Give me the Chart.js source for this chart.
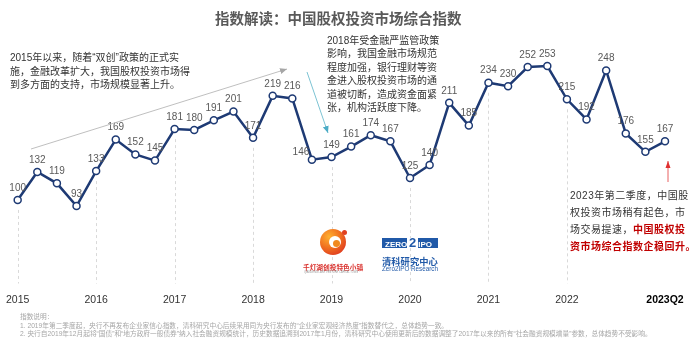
<!DOCTYPE html>
<html>
<head>
<meta charset="utf-8">
<script src="https://cdn.jsdelivr.net/npm/chart.js@4.4.0/dist/chart.umd.min.js"></script>
<style>
  body { margin: 0; background: #fff; }
  #wrap { position: relative; width: 699px; height: 340px; overflow: hidden;
          font-family: "Liberation Sans", "Noto Sans CJK SC", sans-serif; }
  #c { position: absolute; left: 0; top: 0; }
  .txt { position: absolute; white-space: nowrap; color: #333; font-size: 10px; }
  .red { color: #c00000; font-weight: bold; }
</style>
</head>
<body>
<div id="wrap">
  <canvas id="c" width="699" height="340"></canvas>

  <div class="txt" style="left:215px; top:7px; font-size:14.5px; font-weight:bold; color:#595959;">指数解读：中国股权投资市场综合指数</div>

  <div class="txt" style="left:10px; top:51px; line-height:13.5px;">
    2015年以来，随着“双创”政策的正式实<br>施，金融改革扩大，我国股权投资市场得<br>到多方面的支持，市场规模显著上升。
  </div>

  <div class="txt" style="left:327px; top:34px; line-height:13.4px;">
    2018年受金融严监管政策<br>影响，我国金融市场规范<br>程度加强，银行理财等资<br>金进入股权投资市场的通<br>道被切断，造成资金面紧<br>张，机构活跃度下降。
  </div>

  <div class="txt" style="left:570px; top:187px; line-height:17px; letter-spacing:0.5px;">
    2023年第二季度，中国股<br>权投资市场稍有起色，市<br>场交易提速，<span class="red">中国股权投</span><br><span class="red">资市场综合指数企稳回升。</span>
  </div>

  <svg width="699" height="340" style="position:absolute;left:0;top:0;pointer-events:none;">
    <defs>
      <marker id="ag" markerWidth="8" markerHeight="8" refX="7" refY="4" orient="auto" markerUnits="userSpaceOnUse">
        <path d="M0,1 L7,4 L0,7 Z" fill="#a6a6a6"/>
      </marker>
      <marker id="at" markerWidth="8" markerHeight="8" refX="7" refY="4" orient="auto" markerUnits="userSpaceOnUse">
        <path d="M0,1 L7,4 L0,7 Z" fill="#4bacc6"/>
      </marker>
      <marker id="ar" markerWidth="8" markerHeight="8" refX="7" refY="4" orient="auto" markerUnits="userSpaceOnUse">
        <path d="M0,1.5 L7,4 L0,6.5 Z" fill="#e03030"/>
      </marker>
    </defs>
    <line x1="31" y1="149" x2="287" y2="69" stroke="#bfbfbf" stroke-width="1" marker-end="url(#ag)"/>
    <line x1="307" y1="72" x2="328" y2="133" stroke="#7cc3d3" stroke-width="1" marker-end="url(#at)"/>
    <line x1="668" y1="182" x2="668" y2="161" stroke="#e86060" stroke-width="1" marker-end="url(#ar)"/>
  </svg>

  <!-- logos -->
  <div style="position:absolute; left:320px; top:229px; width:26px; height:26px; border-radius:50%;
              background:radial-gradient(circle at 35% 30%, #ffb030 0%, #f07020 45%, #d62020 100%);"></div>
  <div style="position:absolute; left:329px; top:236px; width:12px; height:12px; border-radius:50%; background:#fff;"></div>
  <div style="position:absolute; left:333px; top:240px; width:7px; height:7px; border-radius:50%; background:#f08a20;"></div>
  <div style="position:absolute; left:342px; top:230px; width:5px; height:5px; border-radius:50%; background:#e04020;"></div>
  <div class="txt" style="left:303px; top:262px; font-size:6.7px; font-weight:bold; color:#d9302c;">千灯湖创投特色小镇</div>
  <div class="txt" style="left:304px; top:271px; font-size:2.6px; color:#999;">QIANDENG LAKE VENTURE CAPITAL TOWN</div>

  <div style="position:absolute; left:382px; top:238px; width:56px; height:10px; background:#2059a8;
              color:#fff; font:bold 8px 'Liberation Sans'; line-height:10px; white-space:nowrap;">
    <span style="margin-left:3px;">ZERO</span><span style="display:inline-block; width:11px; background:#fff; color:#2059a8; font-size:13px; text-align:center; line-height:10px;">2</span><span>IPO</span>
  </div>
  <div class="txt" style="left:382px; top:254px; font-size:9.3px; font-weight:bold; color:#2059a8;">清科研究中心</div>
  <div class="txt" style="left:382px; top:265px; font-size:6.3px; color:#2059a8;">Zero2IPO Research</div>

  <div class="txt" style="left:20px; top:313px; font-size:6.7px; line-height:8.5px; color:#a6a6a6;">
    指数说明：<br>
    1. 2019年第二季度起，央行不再发布企业家信心指数，清科研究中心后续采用同为央行发布的“企业家宏观经济热度”指数替代之，总体趋势一致。<br>
    2. 央行自2019年12月起将“国债”和“地方政府一般债券”纳入社会融资规模统计，历史数据追溯到2017年1月份，清科研究中心使用更新后的数据调整了2017年以来的所有“社会融资规模增量”参数，总体趋势不受影响。
  </div>
</div>

<script>
// quarterly data, 2015Q1 .. 2023Q2
const quarters = [
  '2015Q1','2015Q2','2015Q3','2015Q4',
  '2016Q1','2016Q2','2016Q3','2016Q4',
  '2017Q1','2017Q2','2017Q3','2017Q4',
  '2018Q1','2018Q2','2018Q3','2018Q4',
  '2019Q1','2019Q2','2019Q3','2019Q4',
  '2020Q1','2020Q2','2020Q3','2020Q4',
  '2021Q1','2021Q2','2021Q3','2021Q4',
  '2022Q1','2022Q2','2022Q3','2022Q4',
  '2023Q1','2023Q2'
];
const indexValues = [
  100, 132, 119, 93,
  133, 169, 152, 145,
  181, 180, 191, 201,
  171, 219, 216, 146,
  149, 161, 174, 167,
  125, 140, 211, 185,
  234, 230, 252, 253,
  215, 192, 248, 176,
  155, 167
];
const tickLabels = [
  '2015','','','',
  '2016','','','',
  '2017','','','',
  '2018','','','',
  '2019','','','',
  '2020','','','',
  '2021','','','',
  '2022','','','',
  '','2023Q2'
];

const lineColor = '#1e3a74';

// dashed drop lines under each year's first quarter
const dropLines = {
  id: 'dropLines',
  beforeDatasetsDraw(chart) {
    const { ctx, chartArea, scales } = chart;
    ctx.save();
    ctx.strokeStyle = '#d9d9d9';
    ctx.lineWidth = 1;
    ctx.setLineDash([3, 3]);
    tickLabels.forEach((lab, i) => {
      if (!/^\d{4}$/.test(lab)) return;
      const x = Math.round(scales.x.getPixelForValue(i)) + 0.5;
      const y = scales.y.getPixelForValue(indexValues[i]) + 10;
      ctx.beginPath();
      ctx.moveTo(x, y);
      ctx.lineTo(x, chartArea.bottom - 4);
      ctx.stroke();
    });
    ctx.restore();
  }
};

// value labels above the points
const valueLabels = {
  id: 'valueLabels',
  afterDatasetsDraw(chart) {
    const { ctx } = chart;
    const meta = chart.getDatasetMeta(0);
    ctx.save();
    ctx.font = '10px "Liberation Sans", Arial, sans-serif';
    ctx.fillStyle = '#595959';
    ctx.textAlign = 'center';
    ctx.textBaseline = 'middle';
    meta.data.forEach((pt, i) => {
      let dx = 0, dy = -12;
      if (indexValues[i] === 146) { dx = -11; dy = -7; }
      ctx.fillText(String(indexValues[i]), pt.x + dx, pt.y + dy);
    });
    ctx.restore();
  }
};

new Chart(document.getElementById('c'), {
  type: 'line',
  data: {
    labels: quarters,
    datasets: [{
      data: indexValues,
      borderColor: lineColor,
      borderWidth: 2.5,
      pointRadius: 3.5,
      pointBorderWidth: 1.5,
      pointBackgroundColor: '#fff',
      pointBorderColor: lineColor,
      tension: 0
    }]
  },
  options: {
    responsive: false,
    animation: false,
    devicePixelRatio: 1,
    layout: { padding: { left: 12, right: 34, top: 25, bottom: 28 } },
    plugins: {
      legend: { display: false },
      tooltip: { enabled: false }
    },
    scales: {
      x: {
        offset: false,
        grid: { display: false, drawTicks: false },
        border: { display: false },
        ticks: {
          autoSkip: false,
          maxRotation: 0,
          padding: 6,
          color: ctx => ctx.index === quarters.length - 1 ? '#000' : '#333',
          font: ctx => ({
            size: 10.5,
            family: '"Liberation Sans", Arial, sans-serif',
            weight: ctx.index === quarters.length - 1 ? 'bold' : 'normal'
          }),
          callback: (v, i) => tickLabels[i]
        }
      },
      y: { display: false, min: 0, max: 300 }
    }
  },
  plugins: [dropLines, valueLabels]
});
</script>
</body>
</html>
